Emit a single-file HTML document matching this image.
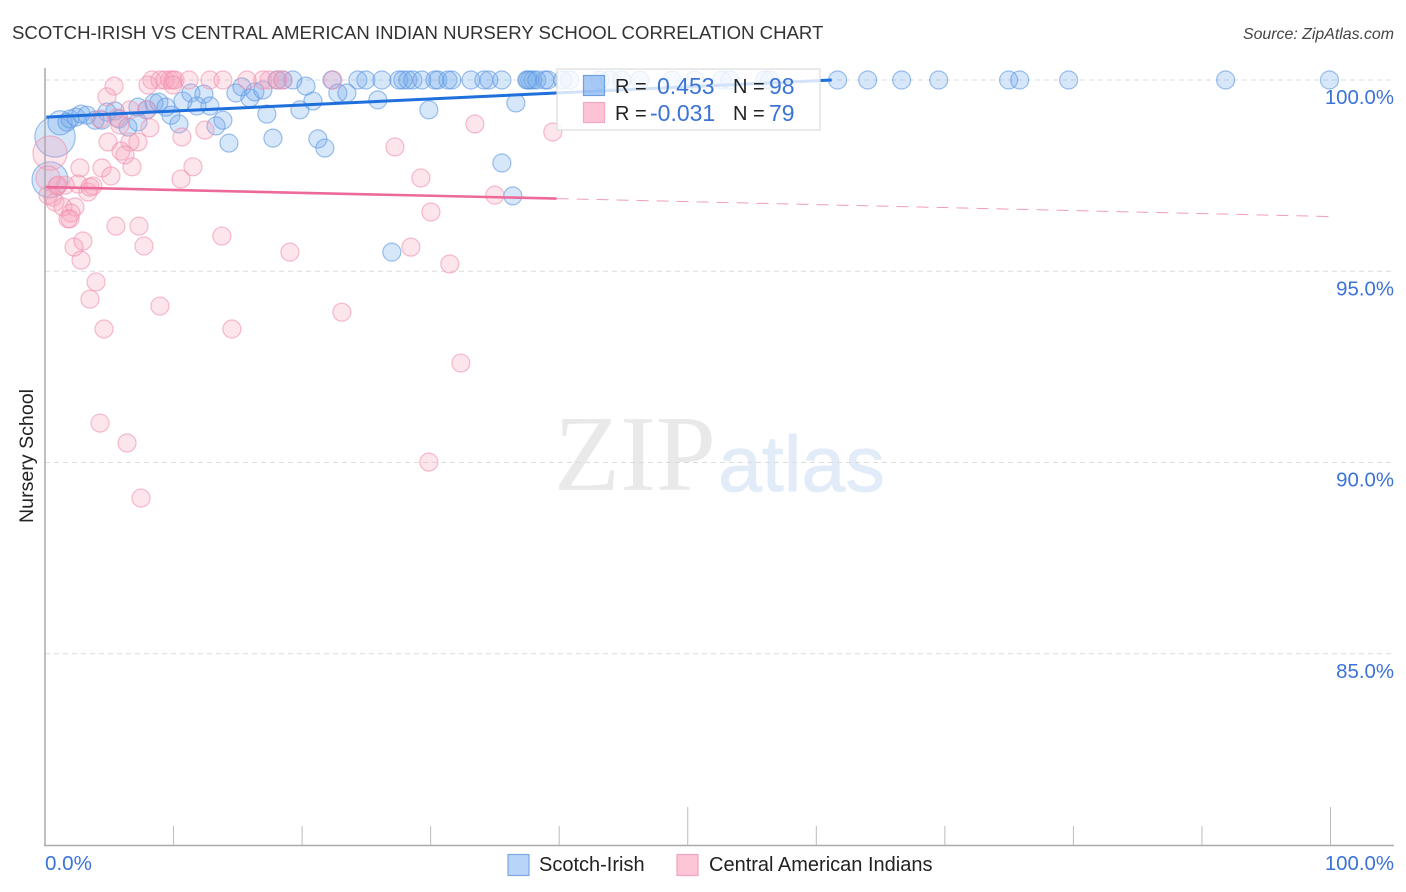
<!DOCTYPE html>
<html lang="en">
<head>
<meta charset="utf-8">
<title>Scotch-Irish vs Central American Indian Nursery School Correlation Chart</title>
<style>
html,body{margin:0;padding:0;background:#fff;}
svg{display:block;font-family:"Liberation Sans",sans-serif;}
</style>
</head>
<body>
<svg id="chart" xmlns="http://www.w3.org/2000/svg" width="1406" height="892" viewBox="0 0 1406 892">
  <text x="12" y="39" font-size="18.6" fill="#333">SCOTCH-IRISH VS CENTRAL AMERICAN INDIAN NURSERY SCHOOL CORRELATION CHART</text>
  <text x="1394" y="39" font-size="15.9" font-style="italic" fill="#444" text-anchor="end">Source: ZipAtlas.com</text>
  <text x="554" y="490" font-size="108" font-family="'Liberation Serif',serif" fill="#e9e9e9">ZIP</text>
  <text x="718" y="491" font-size="79" fill="#e2ecf9" stroke="#e2ecf9" stroke-width="0.8">atlas</text>
  <g id="grid"></g>
  <g id="marks"></g>
  <g id="trends"></g>
  <g id="axes"></g>
  <text transform="translate(33,456) rotate(-90)" font-size="19.6" fill="#222" text-anchor="middle">Nursery School</text>
  <g>
    <rect x="557" y="69" width="263" height="61" fill="#fff" fill-opacity="0.8" stroke="#dcdcdc" stroke-width="1.2"/>
    <rect x="583.5" y="75.5" width="21" height="20" fill="#6ea6ee" fill-opacity="0.6" stroke="#6ea0e0" stroke-width="1.2"/>
    <rect x="583.5" y="102.5" width="21" height="20" fill="#fdc2d4" stroke="#f5a9c0" stroke-width="1.2"/>
    <text x="615" y="93" font-size="20" fill="#222">R =</text>
    <text x="657" y="94" font-size="23" fill="#3b73d6">0.453</text>
    <text x="733" y="93" font-size="20" fill="#222">N =</text>
    <text x="769" y="94" font-size="23" fill="#3b73d6">98</text>
    <text x="615" y="120" font-size="20" fill="#222">R =</text>
    <text x="650" y="121" font-size="23" fill="#3b73d6">-0.031</text>
    <text x="733" y="120" font-size="20" fill="#222">N =</text>
    <text x="769" y="121" font-size="23" fill="#3b73d6">79</text>
  </g>
  <g>
    <rect x="508" y="854.5" width="21" height="21" fill="#b8d4f8" stroke="#7ba9e4" stroke-width="1.2"/>
    <text x="539" y="871" font-size="20" fill="#222">Scotch-Irish</text>
    <rect x="677" y="854.5" width="21" height="21" fill="#fdc6d7" stroke="#f0a3bc" stroke-width="1.2"/>
    <text x="709" y="871" font-size="20" fill="#222">Central American Indians</text>
  </g>
</svg>
<script>
const xTickValues = [0,10,20,30,40,50,60,70,80,90,100];
const xMajorTicks = [50,100];
const yTickValues = [100,95,90,85];
const yTickLabels = ["100.0%","95.0%","90.0%","85.0%"];
const xEndLabels = ["0.0%","100.0%"];

const blueX = [18.04,18.51,19.28,22.32,24.34,24.96,26.21,27.53,27.84,28.23,28.62,29.32,30.33,30.56,31.34,31.65,33.13,34.14,34.53,35.54,37.48,37.56,37.71,37.95,38.26,38.88,39.11,40.28,40.82,43.16,43.93,44.87,46.27,48.76,50.54,52.64,53.27,55.99,56.38,61.66,64.0,66.64,69.52,74.96,75.82,79.63,91.84,99.92,
0.78,0.39,1.17,1.71,1.94,2.41,2.80,3.27,3.89,4.43,4.82,5.44,5.75,6.45,7.23,7.23,7.93,8.48,8.86,9.41,9.80,10.42,10.73,11.35,11.82,12.36,12.83,13.30,13.84,14.31,14.85,15.32,15.94,16.33,16.95,17.26,17.73,19.83,20.30,20.84,21.23,21.77,22.78,23.48,25.89,29.86,36.63,35.54,36.39,26.98];
const blueY = [100,100,100,100,100,100,100,100,100,100,100,100,100,100,100,100,100,100,100,100,100,100,100,100,100,100,100,100,100,100,100,100,100,100,100,100,100,100,100,100,100,100,100,100,100,100,100,100,
98.51,97.39,98.88,98.90,98.98,99.03,99.11,99.08,98.95,98.95,99.16,99.19,98.98,98.77,98.90,99.29,99.22,99.40,99.42,99.29,99.08,98.85,99.45,99.66,99.32,99.63,99.32,98.80,98.95,98.35,99.66,99.82,99.53,99.69,99.74,99.11,98.48,99.22,99.84,99.45,98.46,98.22,99.66,99.66,99.48,99.22,99.40,97.83,96.97,95.50];
const blueWeight = {48:5, 49:4, 50:1.8};

const pinkX = [8.32,8.94,9.33,9.72,9.95,10.11,11.20,12.83,13.84,15.71,16.95,17.42,18.12,18.51,22.40,
5.37,4.82,8.01,9.95,6.61,7.93,5.83,8.16,10.65,12.44,4.90,7.23,6.61,5.91,6.22,6.77,2.72,4.43,5.13,2.57,3.73,3.34,1.56,0.93,0.39,0.23,0.62,0.78,1.40,2.33,2.02,1.79,1.94,5.52,7.31,7.70,2.95,2.26,2.80,13.76,19.05,3.97,3.50,4.59,8.94,14.54,23.09,28.46,31.49,32.35,4.28,6.38,7.47,29.86,30.02,29.24,27.22,33.44,39.50,34.99,11.51,10.58,0.23,1.01,3.50,4.28,5.60];
const pinkY = [100,100,100,100,100,100,100,100,100,100,100,100,100,100,100,
99.84,99.56,99.87,99.87,99.22,99.22,98.82,98.75,98.51,98.69,98.38,98.38,98.38,98.14,98.04,97.73,97.70,97.70,97.49,97.28,97.23,97.07,97.25,97.23,98.09,97.44,96.94,96.81,96.68,96.68,96.52,96.37,96.37,96.18,96.18,95.66,95.79,95.63,95.29,95.92,95.50,94.72,94.27,93.49,94.09,93.49,93.93,95.63,95.19,92.60,91.03,90.51,89.07,90.01,96.55,97.44,98.25,98.85,98.64,96.99,97.73,97.41,96.99,97.25,97.20,98.98,99.01];
const pinkWeight = {39:3.6, 40:1.8};

const blueTrendX = [0.1, 61.2];
const blueTrendY = [99.03, 100];
const pinkTrendX = [0, 39.8, 100];
const pinkTrendY = [97.2, 96.9, 96.43];

const NS = "http://www.w3.org/2000/svg";
function xs(v){ return 45 + v * 12.855; }
function ys(v){ return 80 + (100 - v) * 38.25; }
function make(tag, attrs, parent){
  const el = document.createElementNS(NS, tag);
  for (const k in attrs) el.setAttribute(k, attrs[k]);
  parent.appendChild(el);
  return el;
}
const grid = document.getElementById("grid");
const marks = document.getElementById("marks");
const trends = document.getElementById("trends");
const axes = document.getElementById("axes");

yTickValues.forEach(function(v, i){
  const g = make("line", {x1:45, x2:1394, y1:ys(v), y2:ys(v), stroke:"#dcdcdc", "stroke-width":1, "stroke-dasharray":"5 4"}, grid);
  
  
  const t = make("text", {x:1394, y:ys(v)+24, "font-size":20.4, fill:"#3b73d6", "text-anchor":"end"}, axes);
  t.textContent = yTickLabels[i];
  
  
});

const yAxis = make("line", {x1:45, x2:45, y1:68, y2:845.5, stroke:"#aaa", "stroke-width":1.5}, axes);


const xAxis = make("line", {x1:44, x2:1394, y1:845.5, y2:845.5, stroke:"#aaa", "stroke-width":1.5}, axes);



xTickValues.slice(1).forEach(function(v){
  const top = xMajorTicks.indexOf(v) >= 0 ? 807 : 826;
  const tick = make("line", {x1:xs(v), x2:xs(v), y1:top, y2:845, stroke:"#bbb", "stroke-width":1}, axes);
  
  
});
const xLabelLeft = make("text", {x:xs(0), y:870, "font-size":20.6, fill:"#3b73d6"}, axes);
xLabelLeft.textContent = xEndLabels[0];


const xLabelRight = make("text", {x:1394, y:870, "font-size":20.4, fill:"#3b73d6", "text-anchor":"end"}, axes);
xLabelRight.textContent = xEndLabels[1];



function radius(weight){ return 9 * Math.sqrt(weight || 1); }

blueX.forEach(function(x, i){
  const c = make("circle", {cx:xs(x), cy:ys(blueY[i]), r:radius(blueWeight[i]), fill:"#6fa8ee", "fill-opacity":0.28, stroke:"#5b96e0", "stroke-opacity":0.6, "stroke-width":1.2}, marks);
  
  
});
pinkX.forEach(function(x, i){
  const c = make("circle", {cx:xs(x), cy:ys(pinkY[i]), r:radius(pinkWeight[i]), fill:"#f9a0bc", "fill-opacity":0.28, stroke:"#f08fae", "stroke-opacity":0.6, "stroke-width":1.2}, marks);
  
  
});

const blueTrend = make("line", {x1:xs(blueTrendX[0]), y1:ys(blueTrendY[0]), x2:xs(blueTrendX[1]), y2:ys(blueTrendY[1]), stroke:"#1f6fdc", "stroke-width":3}, trends);


const pinkTrend = make("line", {x1:xs(pinkTrendX[0]), y1:ys(pinkTrendY[0]), x2:xs(pinkTrendX[1]), y2:ys(pinkTrendY[1]), stroke:"#ec6a9a", "stroke-width":2.6}, trends);


const pinkDash = make("line", {x1:xs(pinkTrendX[1]), y1:ys(pinkTrendY[1]), x2:xs(pinkTrendX[2]), y2:ys(pinkTrendY[2]), stroke:"#ec85a8", "stroke-opacity":0.8, "stroke-width":1, "stroke-dasharray":"12 8"}, trends);


</script>
</body>
</html>
